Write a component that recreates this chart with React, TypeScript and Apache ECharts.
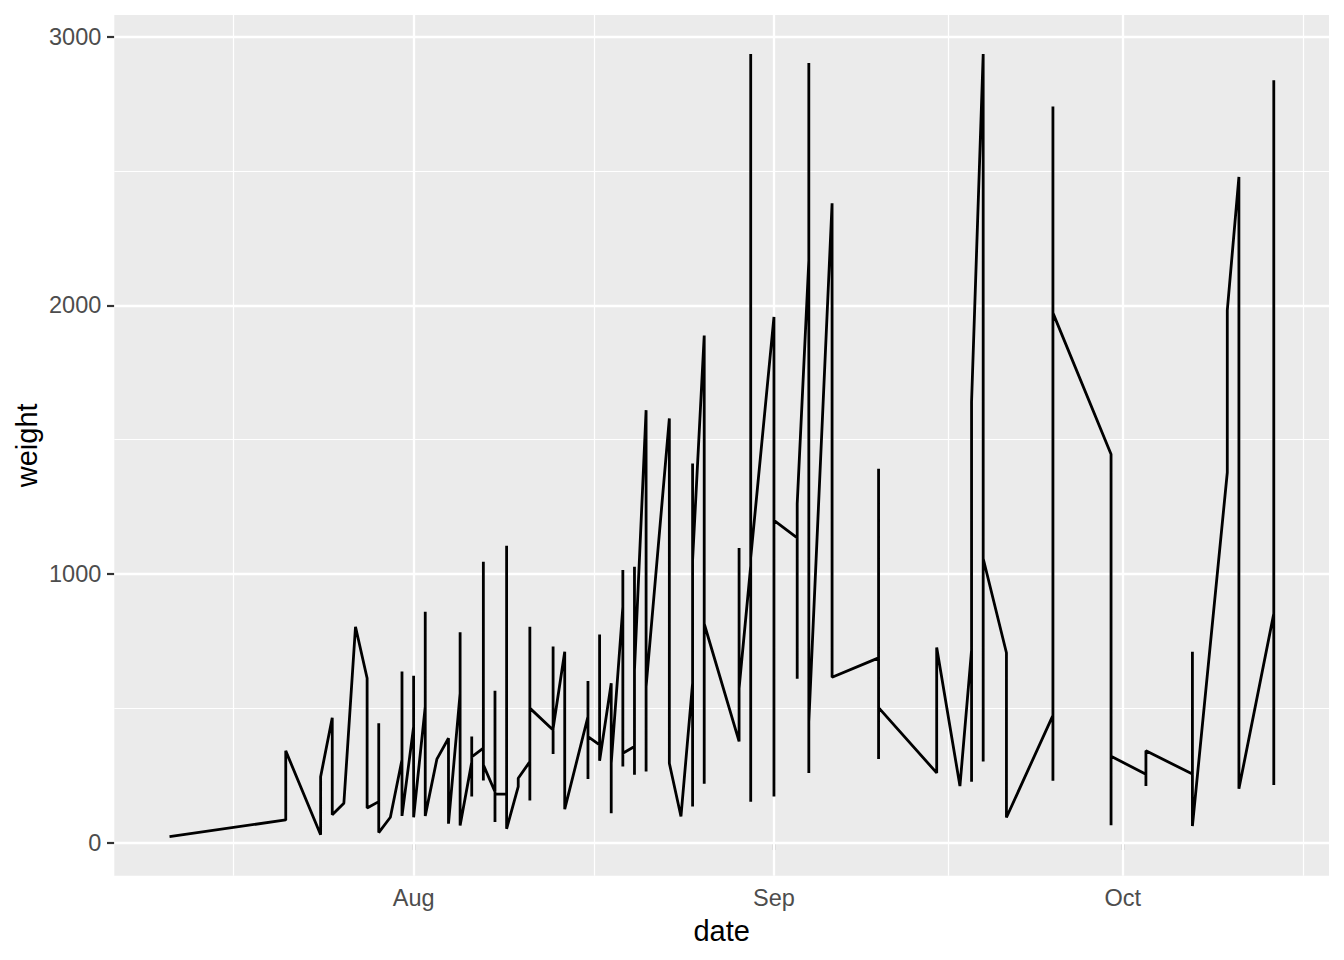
import React, { useEffect, useRef } from "react";
import * as echarts from "echarts";

// Observation dates (one entry per row, in row order) and the weights
const obsDates: string[] = [
  "2023-07-11",
  "2023-07-21", "2023-07-21",
  "2023-07-24", "2023-07-24",
  "2023-07-25", "2023-07-25",
  "2023-07-26",
  "2023-07-27",
  "2023-07-28", "2023-07-28",
  "2023-07-29", "2023-07-29", "2023-07-29",
  "2023-07-30",
  "2023-07-31", "2023-07-31", "2023-07-31",
  "2023-08-01", "2023-08-01", "2023-08-01",
  "2023-08-02", "2023-08-02", "2023-08-02",
  "2023-08-03",
  "2023-08-04", "2023-08-04",
  "2023-08-05", "2023-08-05", "2023-08-05",
  "2023-08-06", "2023-08-06", "2023-08-06", "2023-08-06",
  "2023-08-07", "2023-08-07", "2023-08-07", "2023-08-07",
  "2023-08-08", "2023-08-08", "2023-08-08", "2023-08-08",
  "2023-08-09", "2023-08-09", "2023-08-09",
  "2023-08-10", "2023-08-10",
  "2023-08-11", "2023-08-11", "2023-08-11", "2023-08-11",
  "2023-08-13", "2023-08-13", "2023-08-13", "2023-08-13",
  "2023-08-14", "2023-08-14",
  "2023-08-16", "2023-08-16", "2023-08-16", "2023-08-16",
  "2023-08-17", "2023-08-17", "2023-08-17",
  "2023-08-18", "2023-08-18", "2023-08-18",
  "2023-08-19", "2023-08-19", "2023-08-19", "2023-08-19",
  "2023-08-20", "2023-08-20", "2023-08-20", "2023-08-20",
  "2023-08-21", "2023-08-21", "2023-08-21",
  "2023-08-23", "2023-08-23",
  "2023-08-24",
  "2023-08-25", "2023-08-25", "2023-08-25", "2023-08-25",
  "2023-08-26", "2023-08-26", "2023-08-26",
  "2023-08-29", "2023-08-29", "2023-08-29",
  "2023-08-30", "2023-08-30", "2023-08-30", "2023-08-30",
  "2023-09-01", "2023-09-01", "2023-09-01",
  "2023-09-03", "2023-09-03", "2023-09-03",
  "2023-09-04", "2023-09-04", "2023-09-04", "2023-09-04",
  "2023-09-06", "2023-09-06",
  "2023-09-10", "2023-09-10", "2023-09-10", "2023-09-10",
  "2023-09-15", "2023-09-15",
  "2023-09-17",
  "2023-09-18", "2023-09-18", "2023-09-18",
  "2023-09-19", "2023-09-19", "2023-09-19",
  "2023-09-21", "2023-09-21",
  "2023-09-25", "2023-09-25", "2023-09-25", "2023-09-25",
  "2023-09-30", "2023-09-30", "2023-09-30",
  "2023-10-03", "2023-10-03", "2023-10-03",
  "2023-10-07", "2023-10-07", "2023-10-07",
  "2023-10-10", "2023-10-10",
  "2023-10-11", "2023-10-11",
  "2023-10-14", "2023-10-14", "2023-10-14",
];

const obsWeight: number[] = [
  23,
  85, 342,
  30, 246,
  465, 104,
  147,
  804,
  612, 129,
  153, 445, 38,
  95,
  309, 637, 100,
  432, 622, 95,
  507, 860, 100,
  311,
  389, 71,
  556, 783, 64,
  300, 395, 172, 320,
  352, 1046, 232, 290,
  190, 566, 77, 182,
  181, 1105, 52,
  209, 240,
  302, 804, 157, 501,
  420, 730, 330, 425,
  711, 125,
  470, 602, 237, 395,
  364, 775, 305,
  594, 110, 296,
  878, 1015, 284, 333,
  358, 1027, 253, 643,
  1610, 265, 581,
  1579, 296,
  98,
  594, 1411, 135, 1052,
  1888, 220, 815,
  377, 1097, 575,
  1030, 2935, 153, 1060,
  1957, 172, 1200,
  1135, 610, 1262,
  2167, 2902, 260, 450,
  2380, 616,
  688, 1392, 312, 503,
  260, 727,
  211,
  717, 227, 1641,
  2935, 302, 1058,
  707, 94,
  474, 2740, 231, 1972,
  1446, 65, 322,
  255, 211, 342,
  256, 711, 62,
  1378, 1981,
  2478, 201,
  853, 2838, 215,
];

// Axis breaks
const yBreaks: number[] = [0, 1000, 2000, 3000];
const yMinorBreaks: number[] = [500, 1500, 2500];
const xBreakDates: string[] = ["2023-07-01", "2023-08-01", "2023-09-01", "2023-10-01", "2023-11-01"];
const monthNames: string[] = ["Jan", "Feb", "Mar", "Apr", "May", "Jun", "Jul", "Aug", "Sep", "Oct", "Nov", "Dec"];
const xTitle = "date";
const yTitle = "weight";

const toTs = (s: string) => {
  const [y, m, d] = s.split("-").map(Number);
  return Date.UTC(y, m - 1, d);
};

const FONT = "'Liberation Sans', Arial, Helvetica, sans-serif";

export default function App() {
  const ref = useRef<HTMLDivElement>(null);

  useEffect(() => {
    if (!ref.current) return;
    const chart = echarts.init(ref.current, undefined, { renderer: "svg" });

    const points = obsDates.map((d, i) => [toTs(d), obsWeight[i]]);
    const tsList = points.map((p) => p[0]);
    const dMin = Math.min(...tsList);
    const dMax = Math.max(...tsList);
    const xSpan = dMax - dMin;
    const xMin = dMin - 0.05 * xSpan;
    const xMax = dMax + 0.05 * xSpan;
    const wMin = Math.min(...obsWeight);
    const wMax = Math.max(...obsWeight);
    const ySpan = wMax - wMin;
    const yMin = wMin - 0.05 * ySpan;
    const yMax = wMax + 0.05 * ySpan;

    const xBreaks = xBreakDates.map(toTs);
    const xMinor: number[] = [];
    for (let i = 0; i < xBreaks.length - 1; i++) xMinor.push((xBreaks[i] + xBreaks[i + 1]) / 2);
    const inX = (v: number) => v >= xMin && v <= xMax;
    const xMajorIn = xBreaks.filter(inX);
    const xMinorIn = xMinor.filter(inX);

    const gridLeft = 114.3;
    const gridRight = 15;
    const gridTop = 15;
    const gridBottom = 84.3;

    const mkLines = (xs: number[], ys: number[], width: number, z: number) => ({
      silent: true,
      z,
      symbol: ["none", "none"],
      label: { show: false },
      emphasis: { disabled: true },
      animation: false,
      lineStyle: { color: "#FFFFFF", width, type: "solid", opacity: 1 },
      data: [...ys.map((v) => ({ yAxis: v })), ...xs.map((v) => ({ xAxis: v }))],
    });

    chart.setOption({
      animation: false,
      backgroundColor: "#FFFFFF",
      textStyle: { fontFamily: FONT },
      grid: {
        left: gridLeft,
        right: gridRight,
        top: gridTop,
        bottom: gridBottom,
        show: true,
        backgroundColor: "#EBEBEB",
        borderWidth: 0,
        containLabel: false,
        z: 0,
      },
      xAxis: {
        type: "value",
        min: xMin,
        max: xMax,
        axisLine: { show: false },
        splitLine: { show: false },
        axisTick: {
          show: true,
          length: 7.3,
          customValues: xMajorIn,
          lineStyle: { color: "#333333", width: 2.2 },
        },
        axisLabel: {
          show: true,
          customValues: xMajorIn,
          margin: 10,
          fontSize: 23.5,
          color: "#4D4D4D",
          fontFamily: FONT,
          formatter: (v: number) => monthNames[new Date(v).getUTCMonth()],
        },
      },
      yAxis: {
        type: "value",
        min: yMin,
        max: yMax,
        axisLine: { show: false },
        splitLine: { show: false },
        axisTick: {
          show: true,
          length: 7.3,
          customValues: yBreaks,
          lineStyle: { color: "#333333", width: 2.2 },
        },
        axisLabel: {
          show: true,
          customValues: yBreaks,
          margin: 13,
          fontSize: 23.5,
          color: "#4D4D4D",
          fontFamily: FONT,
          formatter: (v: number) => String(v),
        },
      },
      graphic: [
        {
          type: "text",
          x: gridLeft + (1344 - gridLeft - gridRight) / 2,
          y: 931,
          style: {
            text: xTitle,
            fontSize: 29,
            fontFamily: FONT,
            fill: "#000000",
            align: "center",
            verticalAlign: "middle",
          },
        },
        {
          type: "text",
          x: 27,
          y: gridTop + (960 - gridTop - gridBottom) / 2,
          rotation: Math.PI / 2,
          style: {
            text: yTitle,
            fontSize: 29,
            fontFamily: FONT,
            fill: "#000000",
            align: "center",
            verticalAlign: "middle",
          },
        },
      ],
      series: [
        {
          type: "line",
          data: [],
          z: 1,
          silent: true,
          markLine: mkLines(xMinorIn, yMinorBreaks, 1.2, 1),
        },
        {
          type: "line",
          data: [],
          z: 1,
          silent: true,
          markLine: mkLines(xMajorIn, yBreaks, 2.3, 1.5),
        },
        {
          type: "line",
          name: "weight",
          data: points,
          z: 10,
          showSymbol: false,
          symbol: "none",
          silent: true,
          lineStyle: { color: "#000000", width: 2.8, join: "bevel", cap: "butt" },
          emphasis: { disabled: true },
        },
      ],
    });

    return () => chart.dispose();
  }, []);

  return (
    <div
      ref={ref}
      style={{ position: "fixed", left: 0, top: 0, width: 1344, height: 960, background: "#FFFFFF" }}
    />
  );
}
